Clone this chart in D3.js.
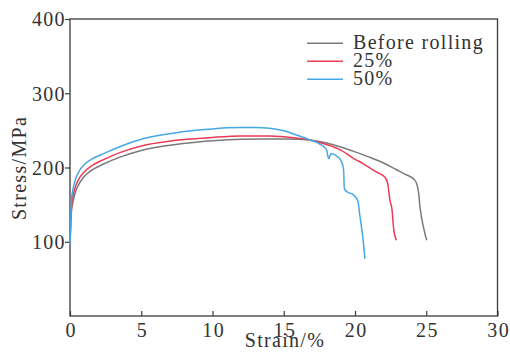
<!DOCTYPE html>
<html>
<head>
<meta charset="utf-8">
<script src="https://cdn.jsdelivr.net/npm/d3@7"></script>
<style>
  html, body { margin: 0; padding: 0; background: #fff; }
  svg text { font-family: "Liberation Serif", "Times New Roman", serif; fill: #333; letter-spacing: 1.3px; }
</style>
</head>
<body>
<svg id="chart" width="510" height="361"></svg>
<script>
// Engineering stress–strain curves, [strain %, stress MPa]
const beforeRolling = [
  [0, 95], [0.05, 122], [0.1, 140], [0.2, 153], [0.4, 168], [0.7, 180], [1, 188],
  [1.5, 196], [2.4, 205], [3.5, 214], [5, 223], [7, 230], [9, 234.5], [10, 236],
  [12, 238], [14, 238.5], [15, 238.5], [16, 238], [17, 236.5], [18, 233], [19, 227.5],
  [20, 221], [21, 214], [22, 206], [22.9, 197], [23.5, 191], [24.2, 183], [24.45, 168],
  [24.56, 147], [24.8, 120], [25.03, 102]
];
const rolled25 = [
  [0, 95], [0.05, 128], [0.1, 146], [0.2, 160], [0.4, 175], [0.7, 187], [1, 194],
  [1.5, 202], [2.4, 211], [3.5, 220], [5, 229], [7, 235.5], [9, 239], [10, 240.5],
  [12, 242.5], [14, 242.5], [15, 241.5], [16, 239.5], [17, 236.5], [18, 231], [19, 223.5],
  [20, 211], [20.5, 206], [21.5, 194], [22.1, 187], [22.3, 178], [22.45, 156],
  [22.6, 143], [22.7, 120], [22.9, 102]
];
const rolled50 = [
  [0, 95], [0.05, 135], [0.1, 155], [0.2, 170], [0.4, 185], [0.7, 197], [1, 204],
  [1.5, 211], [2.4, 219], [3.5, 228], [5, 238], [7, 245.5], [9, 250.5], [10, 252],
  [11, 253.5], [12, 254], [13, 254], [14, 253], [15, 249.5], [16, 243], [17, 236],
  [17.5, 232], [18, 224], [18.15, 212], [18.25, 216], [18.35, 219], [18.6, 217],
  [19.05, 208], [19.2, 197], [19.25, 172], [19.4, 168], [19.9, 163], [20.2, 155],
  [20.35, 134], [20.55, 106], [20.7, 77]
];

const seriesNames = ["Before rolling", "25%", "50%"];
const seriesColors = ["#7a7a7a", "#ec3a55", "#45a8e6"];
const xTicks = [0, 5, 10, 15, 20, 25, 30];
const yTicks = [100, 200, 300, 400];

const svg = d3.select("#chart");
const plotLeft = 70, plotRight = 497.5, plotTop = 19, plotBottom = 316;

const x = d3.scaleLinear().domain([0, 30]).range([plotLeft, plotRight]);
const y = d3.scaleLinear().domain([0, 400]).range([plotBottom, plotTop]);

// frame
svg.append("rect")
  .attr("x", plotLeft).attr("y", plotTop)
  .attr("width", plotRight - plotLeft).attr("height", plotBottom - plotTop)
  .attr("fill", "none").attr("stroke", "#3a3a3a").attr("stroke-width", 1.3);

// x axis: ticks point inward
const xAxis = svg.append("g").attr("transform", `translate(0,${plotBottom})`)
  .call(d3.axisBottom(x).tickValues(xTicks).tickSize(-5).tickPadding(10).tickFormat(d3.format("d")));
xAxis.select(".domain").remove();
xAxis.selectAll(".tick line").attr("stroke", "#3a3a3a").attr("stroke-width", 1.2);
xAxis.selectAll(".tick text").attr("font-size", 20).attr("fill", "#333")
  .attr("font-family", "Liberation Serif").attr("y", 21).attr("dy", 0)
  .attr("dx", 0.65);

// y axis: ticks point outward
const yAxis = svg.append("g").attr("transform", `translate(${plotLeft},0)`)
  .call(d3.axisLeft(y).tickValues(yTicks).tickSize(5).tickPadding(4).tickFormat(d3.format("d")));
yAxis.select(".domain").remove();
yAxis.selectAll(".tick line").attr("stroke", "#3a3a3a").attr("stroke-width", 1.2);
yAxis.selectAll(".tick text").attr("font-size", 20).attr("fill", "#333")
  .attr("font-family", "Liberation Serif").attr("x", -4.2).attr("dy", "0.34em");

// axis titles
svg.append("text")
  .attr("x", 285).attr("y", 347).attr("text-anchor", "middle")
  .attr("font-size", 20).text("Strain/%");
svg.append("text")
  .attr("transform", "translate(26,168) rotate(-90)")
  .attr("text-anchor", "middle").attr("font-size", 20).text("Stress/MPa");

// curves
const line = d3.line()
  .x(d => x(d[0])).y(d => y(d[1]))
  .curve(d3.curveMonotoneX);

[beforeRolling, rolled25, rolled50].forEach((data, i) => {
  svg.append("path")
    .datum(data)
    .attr("d", line)
    .attr("fill", "none")
    .attr("stroke", seriesColors[i])
    .attr("stroke-width", 1.5)
    .attr("stroke-linejoin", "round");
});

// legend
const legend = svg.append("g");
seriesNames.forEach((name, i) => {
  const ly = 43.3 + i * 18;
  legend.append("line")
    .attr("x1", 307).attr("x2", 343).attr("y1", ly).attr("y2", ly)
    .attr("stroke", seriesColors[i]).attr("stroke-width", 1.5);
  legend.append("text")
    .attr("x", 353).attr("y", ly + 5.5).attr("font-size", 20).text(name);
});
</script>
</body>
</html>
